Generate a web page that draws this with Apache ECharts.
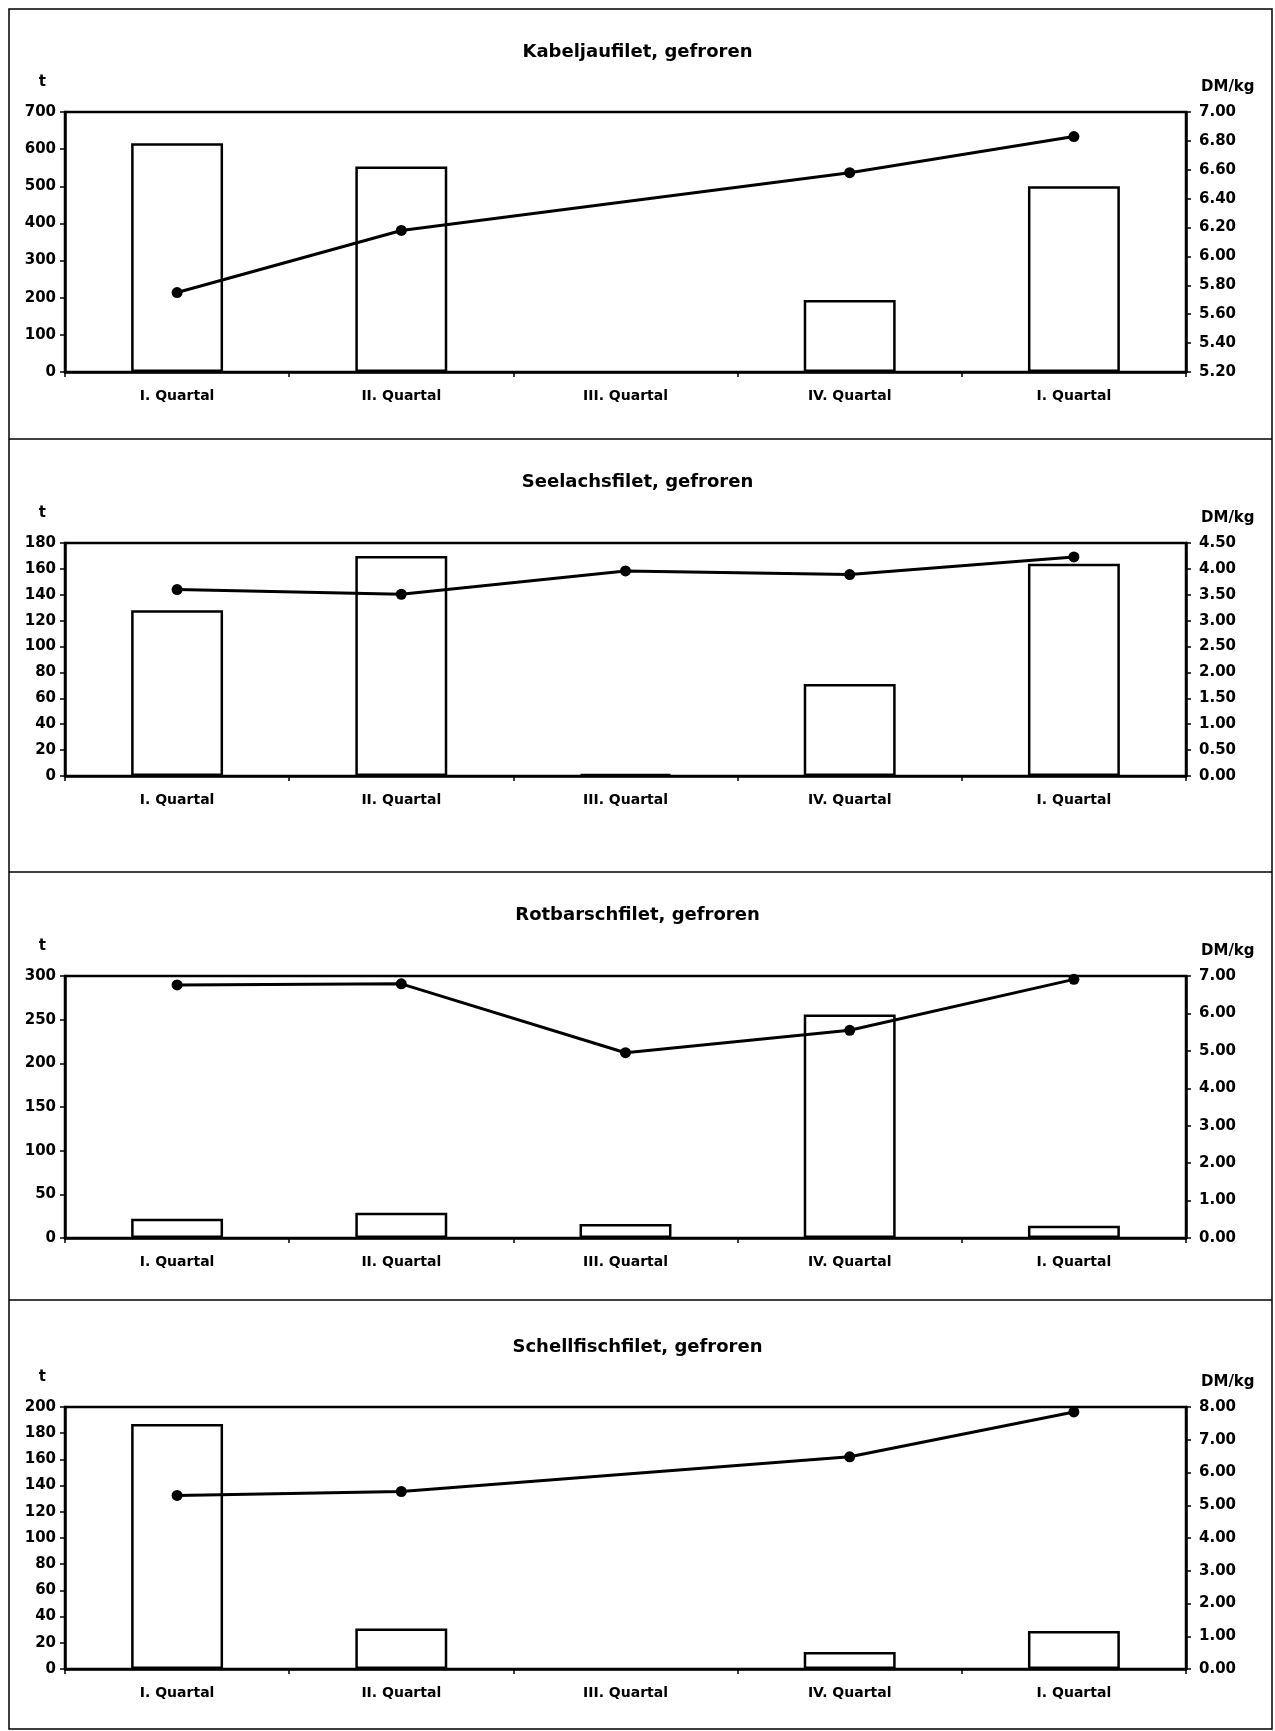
<!DOCTYPE html>
<html>
<head>
<meta charset="utf-8">
<script src="https://cdn.jsdelivr.net/npm/echarts@6/dist/echarts.min.js"></script>
<style>
  html, body { margin: 0; padding: 0; background: #fff; }
  #chart { width: 1275px; height: 1731px; }
</style>
</head>
<body>
<div id="chart"></div>
<script>
// ---- Data ----
const categories = ['I. Quartal', 'II. Quartal', 'III. Quartal', 'IV. Quartal', 'I. Quartal'];

const panelTitles = ['Kabeljaufilet, gefroren', 'Seelachsfilet, gefroren', 'Rotbarschfilet, gefroren', 'Schellfischfilet, gefroren'];

const kabeljauTons  = [616, 553, null, 194, 500];
const kabeljauPrice = [5.75, 6.18, null, 6.58, 6.83];

const seelachsTons  = [128, 170, 1.5, 71, 164];
const seelachsPrice = [3.60, 3.51, 3.96, 3.89, 4.23];

const rotbarschTons  = [22, 29, 16, 256, 14];
const rotbarschPrice = [6.76, 6.79, 4.95, 5.55, 6.91];

const schellfischTons  = [187, 31, null, 13, 29];
const schellfischPrice = [5.30, 5.42, null, 6.48, 7.85];

// axis ranges [min, max, interval]
const tonsAxes  = [[0, 700, 100], [0, 180, 20], [0, 300, 50], [0, 200, 20]];
const priceAxes = [[5.2, 7.0, 0.2], [0, 4.5, 0.5], [0, 7, 1], [0, 8, 1]];

const leftUnit = 't';
const rightUnit = 'DM/kg';

// ---- Layout ----
const FONT = 'DejaVu Sans';
const panels = [
  { top: 112, bottom: 372, titleY: 49 },
  { top: 543, bottom: 776, titleY: 479 },
  { top: 976, bottom: 1238, titleY: 912 },
  { top: 1407, bottom: 1669, titleY: 1344 }
];
const tonsData = [kabeljauTons, seelachsTons, rotbarschTons, schellfischTons];
const priceData = [kabeljauPrice, seelachsPrice, rotbarschPrice, schellfischPrice];

const GL = 65, GR = 1186;

const option = {
  backgroundColor: '#fff',
  animation: false,
  title: [],
  grid: [],
  xAxis: [],
  yAxis: [],
  series: [],
  graphic: []
};

panels.forEach((p, i) => {
  option.title.push({
    text: panelTitles[i],
    left: 'center',
    top: p.titleY - 11,
    textStyle: { fontFamily: FONT, fontWeight: 'bold', fontSize: 18, color: '#000' }
  });
  option.grid.push({
    left: GL, right: 1275 - GR, top: p.top, height: p.bottom - p.top,
    show: true, borderColor: '#000', borderWidth: 2.5, backgroundColor: 'transparent'
  });
  option.xAxis.push({
    type: 'category', gridIndex: i, data: categories, boundaryGap: true,
    axisLine: { lineStyle: { color: '#000', width: 2.5 } },
    axisTick: { show: true, length: 5, lineStyle: { color: '#000', width: 1.5 } },
    axisLabel: { color: '#000', fontFamily: FONT, fontWeight: 'bold', fontSize: 14, margin: 17 },
    splitLine: { show: false }
  });
  const ta = tonsAxes[i], pa = priceAxes[i];
  option.yAxis.push({
    type: 'value', gridIndex: i, min: ta[0], max: ta[1], interval: ta[2],
    name: leftUnit, nameLocation: 'end', nameGap: 30,
    nameTextStyle: { color: '#000', fontFamily: FONT, fontWeight: 'bold', fontSize: 15, align: 'right', verticalAlign: 'middle', padding: [0, 19, 0, 0] },
    axisLine: { show: true, lineStyle: { color: '#000', width: 2.5 } },
    axisTick: { show: true, length: 5, lineStyle: { color: '#000', width: 1.5 } },
    axisLabel: { color: '#000', fontFamily: FONT, fontWeight: 'bold', fontSize: 15, margin: 9 },
    splitLine: { show: false }
  });
  option.yAxis.push({
    type: 'value', gridIndex: i, position: 'right', min: pa[0], max: pa[1], interval: pa[2],
    name: rightUnit, nameLocation: 'end', nameGap: 25,
    nameTextStyle: { color: '#000', fontFamily: FONT, fontWeight: 'bold', fontSize: 15, align: 'left', verticalAlign: 'middle', padding: [0, 0, 0, 15] },
    axisLine: { show: true, lineStyle: { color: '#000', width: 2.5 } },
    axisTick: { show: true, length: 5, lineStyle: { color: '#000', width: 1.5 } },
    axisLabel: { color: '#000', fontFamily: FONT, fontWeight: 'bold', fontSize: 15, margin: 13,
      formatter: v => v.toFixed(2) },
    splitLine: { show: false }
  });
  option.series.push({
    type: 'bar', xAxisIndex: i, yAxisIndex: 2 * i, data: tonsData[i],
    barWidth: '41%',
    itemStyle: { color: '#fff', borderColor: '#000', borderWidth: 2.5 },
    z: 2
  });
  option.series.push({
    type: 'line', xAxisIndex: i, yAxisIndex: 2 * i + 1, data: priceData[i],
    connectNulls: true,
    symbol: 'circle', symbolSize: 11,
    itemStyle: { color: '#000' },
    lineStyle: { color: '#000', width: 3 },
    z: 3
  });
});

// panel frames
option.graphic.push({
  type: 'rect', shape: { x: 9, y: 9, width: 1263, height: 1720 },
  style: { fill: 'none', stroke: '#000', lineWidth: 1.5 }, silent: true
});
[439, 872, 1300].forEach(y => {
  option.graphic.push({
    type: 'line', shape: { x1: 9, y1: y, x2: 1272, y2: y },
    style: { stroke: '#000', lineWidth: 1.5 }, silent: true
  });
});

const chart = echarts.init(document.getElementById('chart'), null, { renderer: 'canvas' });
chart.setOption(option);
</script>
</body>
</html>
